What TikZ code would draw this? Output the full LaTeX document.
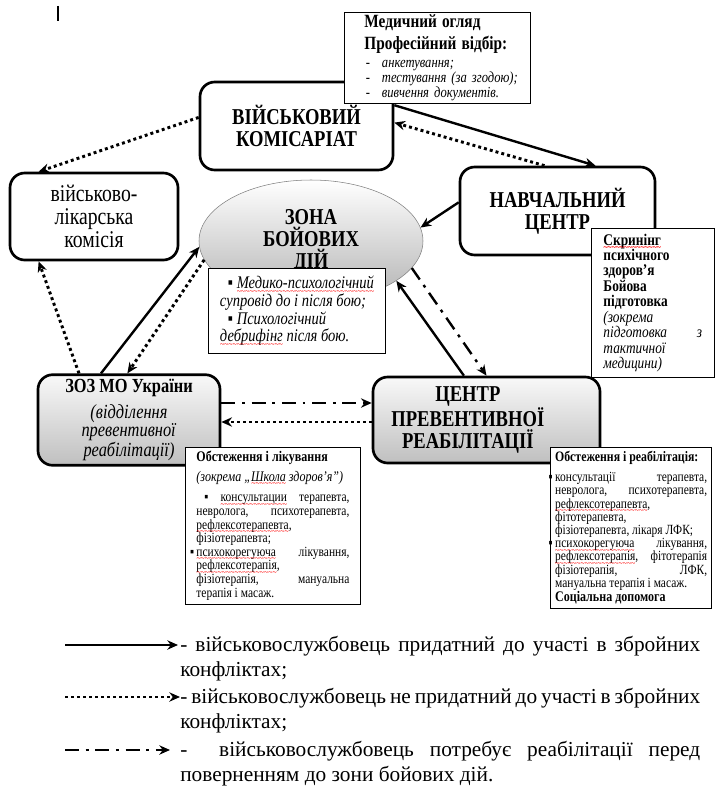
\documentclass[tikz,border=0pt]{standalone}
\usepackage{fontspec}
\setmainfont{Liberation Serif}[FakeStretch=0.82]
\newfontfamily\legendfont{Liberation Serif}
\usetikzlibrary{shapes,arrows.meta}
\newsavebox\wavebox
\newcommand\redwave[1]{\sbox\wavebox{#1}\leavevmode\rlap{\usebox\wavebox}%
  \textcolor{red}{\smash{\lower4pt\hbox to \wd\wavebox{\xleaders\hbox{\fontsize{7}{7}\selectfont\char"007E}\hfil}}}}

\begin{document}
\begin{tikzpicture}[x=0.75pt, y=-0.75pt, >={Stealth[length=8pt, width=7pt]},
  bigbox/.style={draw, line width=2pt, rounded corners=11pt, fill=white, align=center,
    font=\fontsize{17}{16.5}\selectfont\bfseries},
  greybox/.style={bigbox, top color=gray!5, bottom color=gray!50},
  note/.style={draw, line width=0.7pt, fill=white, anchor=north west},
  okline/.style={->, line width=1.8pt},
  unfitline/.style={->, line width=2.2pt, dash pattern=on 2.2pt off 2.3pt},
  rehabline/.style={->, line width=1.8pt, dash pattern=on 10.5pt off 5pt on 2.2pt off 5pt}]

  \newcommand\pxu{0.75pt}
  \useasboundingbox (0,0) rectangle (716,792);

  \draw[line width=1.5pt] (58,6) -- (58,21);

  \node[bigbox, minimum width=193*\pxu, minimum height=88*\pxu] (vk) at (296.5,126) {ВІЙСЬКОВИЙ\\КОМІСАРІАТ};
  \node[bigbox, minimum width=195*\pxu, minimum height=88*\pxu] (nc) at (557.5,211) {НАВЧАЛЬНИЙ\\ЦЕНТР};
  \node[bigbox, font=\fontsize{18}{17.25}\selectfont, minimum width=168*\pxu, minimum height=87*\pxu] (vlk) at (94,216.5) {військово-\\лікарська\\комісія};
  \node[ellipse, draw=gray, top color=white, bottom color=gray!60, minimum width=224*\pxu, minimum height=122*\pxu,
    align=center, font=\fontsize{17}{16.5}\selectfont\bfseries] (zone) at (311,241) {ЗОНА\\БОЙОВИХ\\ДІЙ};
  \node[greybox, minimum width=182*\pxu, minimum height=90*\pxu, font=\fontsize{15}{13.5}\selectfont] (zoz) at (129,420)
    {\textbf{ЗОЗ МО України}\\[5pt]\textit{(відділення}\\\textit{превентивної}\\\textit{реабілітації)}};
  \node[greybox, minimum width=227*\pxu, minimum height=86*\pxu] (cpr) at (486.5,420)
    {ЦЕНТР\rule{28pt}{0pt}\\ПРЕВЕНТИВНОЇ\rule{28pt}{0pt}\\РЕАБІЛІТАЦІЇ\rule{28pt}{0pt}};

  \draw[okline] (vk.12) -- (nc.50); %% ВК -> НЦ
  \draw[unfitline] (nc.106) -- (vk.2); %% НЦ -> ВК
  \draw[unfitline] (vk.175) -- (vlk.141); %% ВК -> ВЛК
  \draw[okline] (nc.175) -- (zone.7); %% НЦ -> зона
  \draw[okline] (zoz.121) -- (zone.183); %% ЗОЗ -> зона
  \draw[unfitline] (zone.190) -- (zoz.92); %% зона -> ЗОЗ
  \draw[unfitline] (zoz.137) -- (vlk.219); %% ЗОЗ -> ВЛК
  \draw[okline] (cpr.117) -- (zone.-25); %% ЦПР -> зона
  \draw[rehabline] (zone.-15) -- (cpr.north); %% зона -> ЦПР
  \draw[rehabline] ([yshift=12.75pt]zoz.east) -- ([yshift=12.75pt]cpr.west); %% ЗОЗ -> ЦПР
  \draw[unfitline] ([yshift=-1.5pt]cpr.west) -- ([yshift=-1.5pt]zoz.east); %% ЦПР -> ЗОЗ

  \node[note, text width=135.5pt, inner xsep=2pt, inner ysep=2pt, align=left, minimum height=86*\pxu, font=\fontsize{11.5}{10.2}\selectfont] (check) at (344,12)
    {\hspace*{13pt}\textbf{\fontsize{14}{10.2}\selectfont Медичний огляд}\\[2.5pt]
     \hspace*{13pt}\textbf{\fontsize{14}{10.2}\selectfont Професійний відбір:}\\[3.3pt]
     \hspace*{14pt}-\hspace{9pt}\textit{анкетування;}\\
     \hspace*{14pt}-\hspace{9pt}\mbox{\textit{тестування (за згодою);}}\\
     \hspace*{14pt}-\hspace{9pt}\textit{вивчення документів.}};
  \node[note, align=left, minimum width=177*\pxu, minimum height=85*\pxu, font=\fontsize{13.3}{13.2}\selectfont\itshape] (support) at (208,268)
    {\hspace*{6pt}\textup{▪} \redwave{Медико-психологічний}\\супровід до і після бою;\\\hspace*{6pt}\textup{▪} Психологічний\\\redwave{дебрифінг} після бою.};
  \node[note, text width=74pt, inner xsep=9pt, align=left, minimum height=149*\pxu, font=\fontsize{12.2}{11.6}\selectfont] (screen) at (591,228)
    {\textbf{\redwave{Скринінг}}\\\textbf{психічного}\\\textbf{здоров’я}\\\textbf{Бойова}\\\textbf{підготовка}\\
     \textit{(зокрема}\\\textit{підготовка}\hfill\textit{з}\\\textit{тактичної}\\\textit{медицини)}};
  \node[note, text width=114.75pt, inner xsep=8.25pt, inner ysep=3pt, align=justify, minimum height=153*\pxu, font=\fontsize{10.5}{10.2}\selectfont] (exam) at (185,447)
    {\textbf{\fontsize{11}{10.2}\selectfont Обстеження і лікування}\par\vspace{4.5pt}
     \textit{\fontsize{11}{10.2}\selectfont (зокрема „\redwave{Школа} здоров’я”)}\par\vspace{5pt}
     \hspace*{6pt}▪ \redwave{консультации} терапевта,\linebreak невролога, психотерапевта,\linebreak
     \redwave{рефлексотерапевта},\newline фізіотерапевта;\par
     \noindent\llap{▪\,}\redwave{психокорегуюча} лікування,\linebreak \redwave{рефлексотерапія},\newline
     фізіотерапія, мануальна\linebreak терапія і масаж.};
  \node[note, text width=114pt, inner xsep=3.5pt, inner ysep=3pt, align=justify, minimum height=161*\pxu, font=\fontsize{10.5}{9.9}\selectfont] (rehab) at (550,447)
    {\mbox{\textbf{\fontsize{10.8}{9.9}\selectfont Обстеження і реабілітація:}}\par\vspace{5pt}
     \noindent\llap{▪\,}консультації терапевта,\linebreak невролога, психотерапевта,\linebreak
     \redwave{рефлексотерапевта},\newline фітотерапевта,\newline фізіотерапевта, лікаря ЛФК;\par
     \noindent\llap{▪\,}\redwave{психокорегуюча} лікування,\linebreak \redwave{рефлексотерапія}, фітотерапія\linebreak
     фізіотерапія, ЛФК,\linebreak мануальна терапія і масаж.\par\vspace{1pt}
     \textbf{\fontsize{11}{9.9}\selectfont Соціальна допомога}};

  \coordinate (fitA) at (65,645);
  \coordinate (fitB) at (178,645);
  \coordinate (unfitA) at (65,697);
  \coordinate (unfitB) at (180,697);
  \coordinate (rehabA) at (65,750);
  \coordinate (rehabB) at (170,750);
  \draw[okline] (fitA) -- (fitB);
  \draw[unfitline] (unfitA) -- (unfitB);
  \draw[rehabline] (rehabA) -- (rehabB);
  \node[anchor=north west, inner sep=0pt, text width=390pt, align=justify, font=\legendfont\fontsize{16}{18.75}\selectfont] (fitText) at (180,635.5)
    {- військовослужбовець придатний до участі в збройних\linebreak конфліктах;};
  \node[anchor=north west, inner sep=0pt, text width=390pt, align=justify, font=\legendfont\fontsize{16}{18.75}\selectfont] (unfitText) at (180,687.5)
    {- військовослужбовець не придатний до участі в збройних\linebreak конфліктах;};
  \node[anchor=north west, inner sep=0pt, text width=390pt, align=justify, font=\legendfont\fontsize{16}{18.75}\selectfont] (rehabText) at (180,740.5)
    {- \ військовослужбовець потребує реабілітації перед\linebreak поверненням до зони бойових дій.};
\end{tikzpicture}
\end{document}
